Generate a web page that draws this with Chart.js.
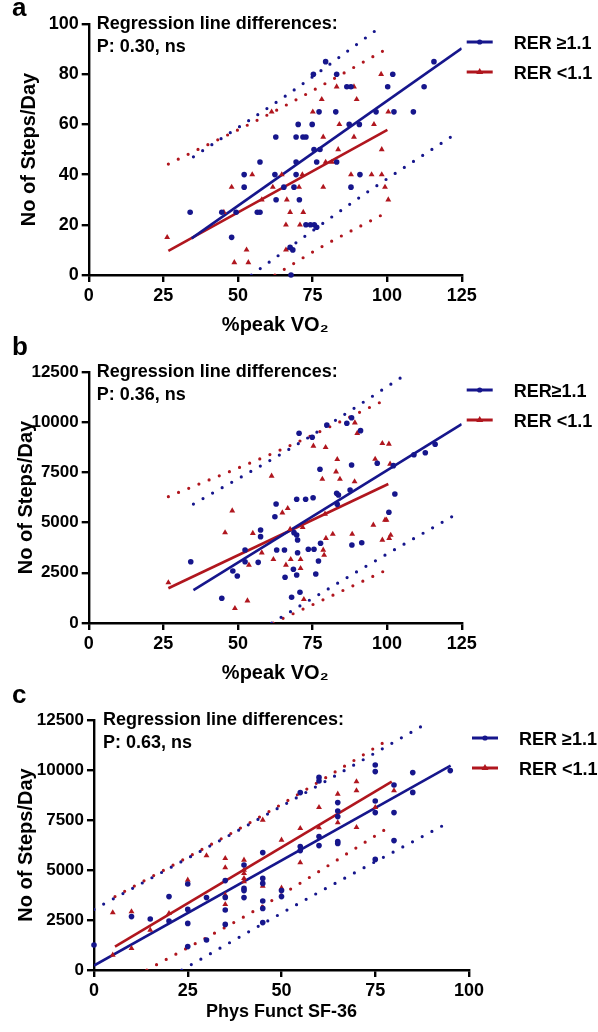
<!DOCTYPE html>
<html><head><meta charset="utf-8">
<script src="https://cdn.jsdelivr.net/npm/chart.js@4.4.1/dist/chart.umd.min.js"></script>
<style>
html,body{margin:0;padding:0;background:#fff;width:598px;height:1032px;overflow:hidden;}
canvas{position:absolute;left:0;}
</style></head><body>
<canvas id="ca" width="598" height="348" style="top:0px"></canvas>
<canvas id="cb" width="598" height="366" style="top:330px"></canvas>
<canvas id="cc" width="598" height="354" style="top:678px"></canvas>
<script>
const FONT = "'Liberation Sans', Arial, Helvetica, sans-serif";
const BLUE = '#16168c';
const RED = '#b0161e';

// ---------- Panel a ----------
const aXTicks = [0, 25, 50, 75, 100, 125];
const aYTicks = [0, 20, 40, 60, 80, 100];
const aBlueX = [34,44.6,49.4,56.5,57.4,47.9,52.1,52.1,57.4,62.7,62.8,62.4,65.4,68.8,69.5,69.5,69.5,70.2,71.8,72.8,74.9,75.3,70.6,72.8,74.3,75.6,76.4,77.2,75.5,77.5,76.4,79.4,82.8,83.1,83.1,86.5,87.9,87.3,90.7,87.9,90.9,96.3,100.2,101.9,102.3,108.8,112.4,115.7,67.8,67.5,68.4];
const aBlueY = [25,25,25,25,25,15,40,35,45,55,30,40,35,35,40,45,55,60,55,55,60,80,30,20,20,20,19,65,50,50,45,85,65,80,45,75,75,60,60,35,40,65,75,80,65,65,75,85,0,11,10];
const aRedX = [26.3,47.9,45.3,48.8,52.9,53.5,54.8,58,61.3,61.7,64.7,66.4,66.1,67.5,66.1,70.5,70.8,71.9,71.6,75.1,78.1,78.6,78.6,79.4,81.5,83.1,83.6,84,87.9,88.9,88.9,89.8,94.8,98.2,95.6,98.2,98,99.3,100.4,100.4];
const aRedY = [15,35,25,5,10,5,40,30,65,35,40,30,20,25,10,35,20,25,40,65,70,55,35,45,45,75,50,60,40,75,55,70,40,40,60,50,80,35,65,30];
const aBlueFitX = [34.5, 125];      const aBlueFitY = [14.6, 90.3];
const aRedFitX = [26.7, 100.1];     const aRedFitY = [9.6, 57.8];
const aBlueUpX = [35.1, 66.4, 98];  const aBlueUpY = [47.1, 71.7, 99];
const aRedUpX = [26.7, 63.5, 99.6]; const aRedUpY = [44.2, 66, 89.9];
const aBlueLoX = [54.5, 92, 123.3]; const aBlueLoY = [0, 31.9, 56.5];
const aRedLoX = [62.4, 78.6, 98.7]; const aRedLoY = [0, 11.6, 24.2];
const aLegend = ['RER \u22651.1', 'RER <1.1'];
const aNote = ['Regression line differences:', 'P: 0.30, ns'];

// ---------- Panel b ----------
const bXTicks = [0, 25, 50, 75, 100, 125];
const bYTicks = [0, 2500, 5000, 7500, 10000, 12500];
const bBlueX = [34.2,44.6,48.3,49.8,52.4,52.4,56.8,57.6,57.6,62.8,62.4,63,65.6,65.8,68.6,69.7,69.7,72.7,75.2,68.8,69.7,70,70,68,70.8,73.6,75.5,76.1,77,77.5,77.7,70.5,74.9,79.8,83.1,83.7,83.3,87.6,88.1,86.5,88.1,91.1,88.2,91.5,96.7,100.6,102.6,102.1,109,112.8,116.1];
const bBlueY = [3050,1230,2590,2340,3635,3050,3020,4630,4300,5925,5295,3635,3635,2275,2675,2390,6160,6160,6240,4500,4380,4130,3500,1280,1530,3670,3670,2440,3090,7655,3970,9450,9250,9860,6460,6375,5910,6625,7870,9945,10225,9580,3885,4000,7955,5515,6425,7835,8380,8480,8900];
const bRedX = [26.7,48.1,45.7,49,53.2,53.7,55,58,61.3,61.9,64.9,66.7,66.1,67.7,67.5,71,71,71.7,72.1,75.3,78.6,78.9,79.4,79.5,81.8,78.3,82.9,83.3,84.2,79.2,89.1,88.3,89.2,90,95.4,96,98.4,100.7,101.2,98.4,100.6,99.3,99.8,101];
const bRedY = [2010,5590,4500,730,1110,2890,4470,3500,7320,3170,5490,5710,2890,3170,4670,3170,2725,4765,1180,8815,3635,3385,8750,4220,4430,7170,7535,8150,7170,5430,7040,4430,9975,9450,4880,8165,4135,4220,4380,8950,8915,5130,5130,7920];
const bBlueFitX = [35.1, 125];      const bBlueFitY = [1640, 9900];
const bRedFitX = [26.7, 100.4];     const bRedFitY = [1730, 6920];
const bBlueUpX = [35.1, 70.8, 106]; const bBlueUpY = [5925, 8980, 12350];
const bRedUpX = [26.7, 64.7, 99.3]; const bRedUpY = [6290, 8650, 11105];
const bBlueLoX = [61.3, 93.7, 123.3]; const bBlueLoY = [0, 2890, 5430];
const bRedLoX = [61.8, 82, 99.3];   const bRedLoY = [0, 1395, 2605];
const bLegend = ['RER\u22651.1', 'RER <1.1'];
const bNote = ['Regression line differences:', 'P: 0.36, ns'];

// ---------- Panel c ----------
const cXTicks = [0, 25, 50, 75, 100];
const cYTicks = [0, 2500, 5000, 7500, 10000, 12500];
const cBlueX = [0,10,15,20,20,25,25,25,25,30,30,35,35,35,35,40,40,40,40,45,45,45,45,45,45,50,50,55,55,55,60,60,60,60,65,65,65,65,65,75,75,75,75,75,80,80,80,85,85,95];
const cBlueY = [1250,2670,2550,3670,2450,4300,3030,2330,1170,1500,3620,4470,3630,3000,2280,5250,4080,3970,3620,5870,4580,4330,3450,3080,2370,3970,3670,6170,5970,8870,6670,6220,9630,9450,8370,7950,7670,6420,6330,10250,9920,8450,7870,5530,9250,7870,6470,9870,8880,9970];
const cRedX = [5,5,10,10,15,20,25,30,35,35,35,35,40,40,40,40,40,45,45,50,50,55,55,60,60,65,65,70,70,70,75,80];
const cRedY = [750,2870,2920,1080,2000,2830,4500,5720,5580,5120,3750,3280,5500,5000,4830,4580,4420,7500,4200,6500,4100,7080,5370,8130,7120,8800,7370,9420,8970,7130,8130,8970];
const cBlueFitX = [0, 95.1];        const cBlueFitY = [220, 10220];
const cRedFitX = [5.6, 79.4];       const cRedFitY = [1170, 9420];
const cBlueUpX = [0, 44.7, 89.1];   const cBlueUpY = [3030, 7630, 12370];
const cRedUpX = [5.6, 41.6, 78.1];  const cRedUpY = [3670, 7370, 11470];
const cBlueLoX = [23.4, 59.8, 94.5]; const cBlueLoY = [0, 3870, 7370];
const cRedLoX = [14.1, 44.7, 78.9]; const cRedLoY = [0, 3170, 7170];
const cLegend = ['RER \u22651.1', 'RER <1.1'];
const cNote = ['Regression line differences:', 'P: 0.63, ns'];

// ---------- helpers ----------
const xy = (X, Y) => X.map((x, i) => ({ x: x, y: Y[i] }));

function pointsDs(X, Y, color, style, r) {
  return { data: xy(X, Y), showLine: false, pointStyle: style, pointRadius: r,
    backgroundColor: color, borderColor: color, pointBorderWidth: 0, clip: false, order: 0 };
}
function fitDs(X, Y, color) {
  return { data: xy(X, Y), showLine: true, borderColor: color, borderWidth: 2.6,
    pointRadius: 0, fill: false, order: 1 };
}
function bandDs(X, Y, color) {
  return { data: xy(X, Y), showLine: true, borderColor: color, borderWidth: 3.2,
    borderDash: [0, 11], borderCapStyle: 'round', pointRadius: 0, fill: false,
    cubicInterpolationMode: 'monotone', order: 2 };
}

const annot = {
  id: 'annot',
  afterDraw(chart, _a, o) {
    const { ctx, chartArea: ca } = chart;
    ctx.save();
    ctx.fillStyle = '#000';
    ctx.textAlign = 'left';
    ctx.textBaseline = 'alphabetic';
    ctx.font = 'bold 18px ' + FONT;
    ctx.fillText(o.note[0], ca.left + o.noteDx, ca.top + 5);
    ctx.fillText(o.note[1], ca.left + o.noteDx, ca.top + 28);
    ctx.font = 'bold 26px ' + FONT;
    ctx.fillText(o.letter, 12, o.letterY);
    const colors = [BLUE, RED];
    o.legend.forEach((txt, i) => {
      const y = ca.top + 18 + i * 30;
      const x0 = ca.right + o.legDx;
      ctx.strokeStyle = colors[i];
      ctx.lineWidth = 3;
      ctx.beginPath(); ctx.moveTo(x0, y); ctx.lineTo(x0 + 26, y); ctx.stroke();
      ctx.fillStyle = colors[i];
      if (i === 0) {
        ctx.beginPath(); ctx.arc(x0 + 13, y, 2.6, 0, Math.PI * 2); ctx.fill();
      } else {
        ctx.beginPath(); ctx.moveTo(x0 + 13, y - 4); ctx.lineTo(x0 + 16.5, y + 2); ctx.lineTo(x0 + 9.5, y + 2); ctx.closePath(); ctx.fill();
      }
      ctx.fillStyle = '#000';
      ctx.font = 'bold 18px ' + FONT;
      ctx.fillText(txt, x0 + 47, y + 7);
    });
    ctx.restore();
  }
};

function axisCommon(ticks, size) {
  return {
    type: 'linear',
    afterBuildTicks: s => { s.ticks = ticks.map(v => ({ value: v })); },
    grid: { display: true, drawOnChartArea: false, drawTicks: true, tickLength: 7, color: '#000', lineWidth: 2.4 },
    border: { display: true, color: '#000', width: 2.4 },
    ticks: { color: '#000', font: { family: FONT, size: size, weight: 'bold' }, padding: 3,
      maxRotation: 0, autoSkip: false, callback: v => String(v) }
  };
}

function panel(id, p) {
  const xAxis = Object.assign(axisCommon(p.xTicks, 18), {
    position: 'bottom', min: p.xTicks[0], max: p.xTicks[p.xTicks.length - 1],
    afterFit: s => { s.height = p.xH; },
    title: { display: true, text: p.xTitle, color: '#000',
      font: { family: FONT, size: p.xTitleSize, weight: 'bold' }, padding: { top: 0, bottom: p.xTitlePad } }
  });
  const yAxis = Object.assign(axisCommon(p.yTicks, p.yTickSize), {
    position: 'left', min: p.yTicks[0], max: p.yTicks[p.yTicks.length - 1],
    afterFit: s => { s.width = p.yW; },
    title: { display: true, text: 'No of Steps/Day', color: '#000',
      font: { family: FONT, size: 20, weight: 'bold' }, padding: { top: p.yTitlePad, bottom: 0 } }
  });
  return new Chart(document.getElementById(id), {
    type: 'scatter',
    data: { datasets: [
      pointsDs(p.blueX, p.blueY, BLUE, 'circle', 2.8),
      pointsDs(p.redX, p.redY, RED, 'triangle', 3.4),
      fitDs(p.blueFitX, p.blueFitY, BLUE),
      fitDs(p.redFitX, p.redFitY, RED),
      bandDs(p.blueUpX, p.blueUpY, BLUE),
      bandDs(p.blueLoX, p.blueLoY, BLUE),
      bandDs(p.redUpX, p.redUpY, RED),
      bandDs(p.redLoX, p.redLoY, RED)
    ] },
    options: {
      responsive: false, animation: false, events: [], devicePixelRatio: 1,
      layout: { padding: { top: p.padT, left: 0, right: p.padR, bottom: 0 } },
      scales: { x: xAxis, y: yAxis },
      plugins: {
        legend: { display: false }, tooltip: { enabled: false },
        annot: { note: p.note, noteDx: p.noteDx, letter: p.letter, letterY: p.letterY, legend: p.legend, legDx: p.legDx }
      }
    },
    plugins: [annot]
  });
}

panel('ca', { xTicks: aXTicks, yTicks: aYTicks, blueX: aBlueX, blueY: aBlueY, redX: aRedX, redY: aRedY,
  blueFitX: aBlueFitX, blueFitY: aBlueFitY, redFitX: aRedFitX, redFitY: aRedFitY,
  blueUpX: aBlueUpX, blueUpY: aBlueUpY, blueLoX: aBlueLoX, blueLoY: aBlueLoY,
  redUpX: aRedUpX, redUpY: aRedUpY, redLoX: aRedLoX, redLoY: aRedLoY,
  xTitle: '%peak VO\u2082', xTitleSize: 20, xTitlePad: 11, xH: 73, yW: 88.7, padR: 136.3, padT: 24,
  yTickSize: 18, yTitlePad: 17,
  note: aNote, noteDx: 8, letter: 'a', letterY: 16, legend: aLegend, legDx: 5 });

panel('cb', { xTicks: bXTicks, yTicks: bYTicks, blueX: bBlueX, blueY: bBlueY, redX: bRedX, redY: bRedY,
  blueFitX: bBlueFitX, blueFitY: bBlueFitY, redFitX: bRedFitX, redFitY: bRedFitY,
  blueUpX: bBlueUpX, blueUpY: bBlueUpY, blueLoX: bBlueLoX, blueLoY: bBlueLoY,
  redUpX: bRedUpX, redUpY: bRedUpY, redLoX: bRedLoX, redLoY: bRedLoY,
  xTitle: '%peak VO\u2082', xTitleSize: 20, xTitlePad: 11, xH: 73, yW: 88.7, padR: 136.3, padT: 42,
  yTickSize: 17, yTitlePad: 14,
  note: bNote, noteDx: 8, letter: 'b', letterY: 25, legend: bLegend, legDx: 5 });

panel('cc', { xTicks: cXTicks, yTicks: cYTicks, blueX: cBlueX, blueY: cBlueY, redX: cRedX, redY: cRedY,
  blueFitX: cBlueFitX, blueFitY: cBlueFitY, redFitX: cRedFitX, redFitY: cRedFitY,
  blueUpX: cBlueUpX, blueUpY: cBlueUpY, blueLoX: cBlueLoX, blueLoY: cBlueLoY,
  redUpX: cRedUpX, redUpY: cRedUpY, redLoX: cRedLoX, redLoY: cRedLoY,
  xTitle: 'Phys Funct SF-36', xTitleSize: 18, xTitlePad: 9, xH: 62, yW: 94, padR: 129, padT: 42,
  yTickSize: 17, yTitlePad: 14,
  note: cNote, noteDx: 9, letter: 'c', letterY: 25, legend: cLegend, legDx: 3 });
</script>
</body></html>
